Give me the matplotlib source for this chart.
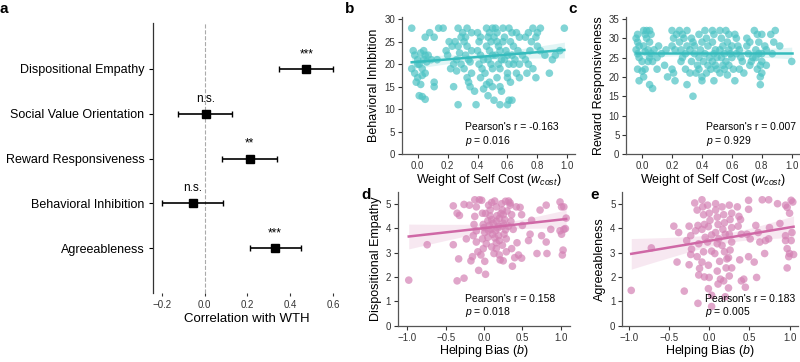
import numpy as np
import matplotlib
matplotlib.use("Agg")
import matplotlib.pyplot as plt

plt.rcParams["font.family"] = ["Liberation Sans", "DejaVu Sans"]
plt.rcParams["mathtext.fontset"] = "custom"
plt.rcParams["mathtext.rm"] = "Liberation Sans"
plt.rcParams["mathtext.it"] = "Liberation Sans:italic"

# ---- panel a: correlations with WTH ----
traits = ["Dispositional Empathy", "Social Value Orientation", "Reward Responsiveness",
          "Behavioral Inhibition", "Agreeableness"]
corr = [0.475, 0.005, 0.21, -0.055, 0.33]
ci_low = [0.35, -0.125, 0.08, -0.20, 0.21]
ci_high = [0.60, 0.13, 0.34, 0.085, 0.45]
signif = ["***", "n.s.", "**", "n.s.", "***"]

# ---- panel b: w_cost vs Behavioral Inhibition ----
b_x = [-0.04, -0.03, -0.02, 0.0, 0.01, -0.02, 0.0, -0.01, 0.03, 0.02, 0.04, 0.05, 0.04, 0.06,
       0.03, 0.05, 0.01, 0.03, 0.05, 0.05, 0.08, -0.04, 0.09, 0.0, 0.02, 0.07,
       0.11, 0.11, 0.11, 0.14, 0.17, 0.13,
       0.2, 0.19, 0.21, 0.23, 0.25, 0.24, 0.22, 0.26, 0.24, 0.27, 0.27, 0.3, 0.29, 0.27, 0.28,
       0.26, 0.29, 0.31, 0.33, 0.34, 0.32, 0.31, 0.33, 0.32, 0.34, 0.36, 0.36, 0.33, 0.35, 0.36,
       0.35, 0.38, 0.39,
       0.4, 0.42, 0.41, 0.4, 0.42, 0.44, 0.41, 0.43, 0.45, 0.42, 0.46, 0.44, 0.47, 0.46, 0.48,
       0.47, 0.49, 0.46, 0.48, 0.5, 0.47, 0.49, 0.5, 0.48, 0.5, 0.51, 0.5, 0.52, 0.53, 0.51,
       0.53, 0.54, 0.55, 0.52, 0.56, 0.54, 0.55, 0.53, 0.55, 0.56, 0.55, 0.57, 0.58, 0.57, 0.59,
       0.6, 0.58, 0.61, 0.6, 0.6, 0.62, 0.61, 0.6, 0.61, 0.63, 0.62, 0.64, 0.63, 0.65, 0.64, 0.63,
       0.66, 0.68, 0.67, 0.7, 0.68, 0.66, 0.68, 0.72, 0.72, 0.74, 0.77, 0.76, 0.75, 0.74, 0.73,
       0.79, 0.77, 0.79, 0.8, 0.82, 0.8, 0.82, 0.85,
       0.9, 0.92, 0.95, 0.98, 0.88]
b_y = [19, 23, 22, 21, 20, 18, 17, 16, 17.5, 22.5, 23, 22, 21, 20.5,
       19, 18, 13, 12.8, 12.2, 26, 27, 28, 21, 20, 15.5, 22,
       16, 15, 26, 28, 28, 21,
       22, 23, 25, 24, 25, 20, 19, 18.5, 15, 11, 28, 27, 26, 24, 22.5,
       21, 20, 19, 17, 16, 26, 25, 24, 22, 21, 23, 27, 28, 20.5, 18,
       15, 14, 11,
       27, 26, 25, 23, 22, 21, 20, 19, 18, 17, 15.5, 14.5, 13, 28, 27,
       26, 25, 24, 23, 22, 21, 20, 19, 16, 15, 12, 28, 28, 27, 26,
       25, 24, 23, 22, 21, 20, 19, 17, 15, 14, 11, 28, 26, 25, 23,
       22, 21, 20, 18, 17, 16, 12, 11, 28, 27, 25, 24, 22, 21, 20, 12,
       27, 26, 23, 22, 20, 18, 17, 21, 26, 27, 28, 25, 23, 20, 18,
       17, 19, 26, 27, 28, 24, 23, 22,
       21, 22, 23, 28, 18]
b_fit = (20.53, 2.67)  # intercept, slope

# ---- panel c: w_cost vs Reward Responsiveness ----
c_x = [-0.03, -0.04, -0.03, -0.02, -0.04, -0.03, -0.02, 0.0, -0.03, 0.0, -0.02, 0.01,
       0.01, 0.03, 0.02, 0.03, 0.05, 0.01, 0.04, 0.02, 0.06, 0.05, 0.04, 0.07, 0.02, 0.05,
       0.08, 0.05, 0.07, 0.06,
       0.11, 0.13, 0.1, 0.1, 0.15, 0.16, 0.2, 0.21, 0.17, 0.22, 0.2, 0.21, 0.2, 0.23, 0.22,
       0.25, 0.27, 0.28, 0.25, 0.3, 0.26, 0.29, 0.27, 0.26, 0.29, 0.32, 0.3, 0.33, 0.34, 0.35,
       0.32, 0.35, 0.33, 0.37, 0.38, 0.36, 0.4, 0.4, 0.3, 0.34, 0.38, 0.4, 0.39, 0.38,
       0.42, 0.43, 0.44, 0.42, 0.45, 0.41, 0.44, 0.46, 0.43, 0.47, 0.48, 0.47, 0.49, 0.48,
       0.5, 0.47, 0.49, 0.5, 0.52, 0.48, 0.52, 0.53, 0.54, 0.52, 0.55, 0.53, 0.56, 0.54,
       0.55, 0.57, 0.56, 0.58, 0.57, 0.6, 0.58, 0.59, 0.6, 0.58, 0.61, 0.62,
       0.62, 0.63, 0.64, 0.65, 0.63, 0.66, 0.67, 0.65, 0.68, 0.7, 0.7, 0.72, 0.71, 0.74,
       0.73, 0.72, 0.75, 0.77, 0.78, 0.76, 0.78, 0.76, 0.79, 0.77, 0.8, 0.82, 0.8, 0.8,
       0.83, 0.8, 0.79, 0.79,
       0.86, 0.89, 0.88, 0.92, 0.87, 1.0, 0.83]
c_y = [31, 30, 29, 28, 27, 26, 25, 24, 22, 21.5, 19, 20,
       32, 32, 31, 30, 29, 28, 27, 26.5, 26, 25, 24, 24, 22, 32,
       27, 18, 17, 31,
       28, 26, 25, 22, 23, 27, 22, 21, 20, 19, 32, 30, 28, 31, 27,
       32, 31, 30, 29, 28, 27, 26, 25, 24, 22, 21, 32, 30, 29, 28,
       27, 26, 24, 23, 22, 21, 20, 19, 18, 15, 31, 29, 27, 25,
       32, 30, 28, 26, 25, 24, 23, 22, 21, 32, 31, 29, 27, 26,
       25, 24, 23, 22, 21, 19, 32, 30, 28, 27, 26, 25, 24, 23,
       22, 20.5, 32, 31, 29, 28, 27, 26, 25, 23, 22, 19,
       31, 30, 28, 27, 26, 25, 24, 22, 21, 30, 28, 29, 26, 25,
       24, 23, 32, 31, 29, 27, 26, 25, 23, 22, 31, 28, 26, 24,
       23, 21, 20, 18,
       31, 32, 29, 28, 26, 24, 27]
c_fit = (26.2, 0.0)

# ---- panel d: helping bias vs Dispositional Empathy ----
d_x = [-0.98, -0.74, -0.40, -0.40, -0.35, -0.35, -0.32, -0.33, -0.26, -0.26, -0.23, -0.19,
       -0.17, -0.15, -0.12, -0.10, -0.12, -0.13, -0.10, -0.14, -0.10, -0.08, -0.07, -0.06,
       -0.03, -0.02, -0.01, 0.0, 0.01, -0.02, 0.03, -0.01, 0.01, 0.02, -0.04,
       0.06, 0.08, 0.10, 0.07, 0.09, 0.11, 0.05, 0.10, 0.13,
       0.14, 0.16, 0.17, 0.16, 0.19, 0.15, 0.19, 0.20, 0.16, 0.20, 0.21,
       0.23, 0.24, 0.25, 0.27, 0.24, 0.28, 0.26, 0.29, 0.25, 0.29,
       0.32, 0.34, 0.36, 0.35, 0.32, 0.38, 0.36, 0.40, 0.37, 0.34,
       0.42, 0.43, 0.45, 0.49, 0.47, 0.49, 0.50,
       0.58, 0.60, 0.62, 0.69, 0.73, 0.75, 0.81, 0.81, 0.82, 0.87, 0.99, 1.01, 1.04, 1.07,
       1.06, 1.04, 1.01, 1.03, 1.02, 0.99,
       0.05, 0.12, 0.20, 0.22, 0.18, 0.08, 0.25, 0.30, 0.14, 0.02, 0.28, 0.10, 0.24, 0.06, 0.16]
d_y = [1.87, 3.32, 4.91, 3.32, 1.84, 4.61, 4.52, 2.74, 4.97, 1.95, 3.56, 4.94,
       2.66, 2.83, 5.16, 4.87, 4.48, 4.15, 3.89, 3.69, 3.43, 3.03, 2.27, 5.16,
       5.14, 4.61, 4.15, 4.02, 3.82, 3.56, 3.36, 3.16, 2.64, 2.11, 2.90,
       4.94, 4.74, 4.35, 4.11, 3.95, 3.75, 3.62, 3.23, 2.96,
       5.11, 4.87, 4.51, 4.28, 4.08, 3.89, 3.69, 3.49, 3.16, 2.90, 2.70,
       5.00, 4.74, 4.55, 4.35, 4.08, 3.93, 3.75, 3.56, 2.66, 3.03,
       5.11, 4.94, 4.55, 4.28, 4.08, 3.95, 3.16, 2.79, 2.44, 5.03,
       4.87, 3.40, 2.90, 2.77, 4.85, 4.55, 4.11,
       3.49, 3.75, 4.32, 2.96, 4.74, 3.69, 4.94, 3.43, 2.96, 3.95, 5.07, 4.87, 4.87, 4.41,
       3.98, 3.95, 3.75, 3.10, 2.90, 3.89,
       4.30, 4.20, 4.40, 4.60, 4.00, 4.50, 4.20, 4.70, 3.60, 4.60, 5.10, 5.05, 3.30, 3.90, 3.40]
d_fit = (4.0, 0.35)

# ---- panel e: helping bias vs Agreeableness ----
e_x = [-0.97, -0.72, -0.44, -0.38, -0.40, -0.31, -0.28, -0.25, -0.23, -0.22, -0.23, -0.25,
       -0.18, -0.15, -0.17, -0.14, -0.13, -0.15, -0.12, -0.14, -0.13,
       -0.09, -0.08, -0.07, -0.06, -0.09, -0.05, -0.07, -0.06, -0.09,
       -0.02, 0.0, 0.01, -0.01, 0.03, -0.02, 0.03, -0.01, 0.0, -0.01, 0.03, 0.03,
       0.08, 0.08, 0.10, 0.11, 0.08, 0.12, 0.10, 0.07, 0.13, 0.10, 0.14, 0.11,
       0.16, 0.18, 0.19, 0.17, 0.20, 0.16, 0.19, 0.22, 0.21, 0.18, 0.20,
       0.25, 0.28, 0.26, 0.28, 0.25, 0.28, 0.26, 0.24, 0.28, 0.25, 0.24,
       0.35, 0.37, 0.39, 0.36, 0.40, 0.38, 0.40, 0.43, 0.45,
       0.49, 0.49, 0.47, 0.49, 0.51, 0.58, 0.61, 0.63, 0.59, 0.56,
       0.66, 0.70, 0.74, 0.74, 0.75, 0.69, 0.85, 0.88, 0.95, 0.95, 0.97, 0.99, 0.97, 1.00,
       1.02, 1.03, 1.00, 0.97, 0.95, 1.02, 1.04, 1.05]
e_y = [1.45, 3.19, 4.08, 3.82, 2.61, 1.42, 3.49, 4.08, 3.69, 3.14, 2.92, 2.50,
       5.03, 4.74, 3.89, 4.11, 3.36, 2.83, 2.35, 0.92, 2.08,
       5.16, 4.87, 4.55, 4.15, 3.95, 3.62, 3.03, 2.00, 2.61,
       4.94, 4.61, 4.32, 4.06, 3.72, 3.43, 3.06, 2.48, 1.98, 1.52, 1.25, 0.79,
       5.00, 4.74, 4.45, 4.15, 3.82, 3.56, 3.36, 2.96, 2.64, 2.24, 1.91, 1.71,
       4.87, 4.55, 4.22, 3.95, 3.75, 3.29, 3.03, 2.74, 2.37, 1.84, 1.19,
       4.94, 4.61, 4.35, 4.02, 3.75, 3.43, 3.10, 2.79, 2.37, 2.04, 1.55,
       4.87, 4.48, 4.35, 4.08, 3.75, 2.70, 1.84, 1.91, 1.58,
       5.14, 4.77, 3.75, 2.83, 3.56, 4.11, 3.82, 3.43, 1.98, 2.61,
       5.16, 3.49, 3.56, 5.16, 4.02, 2.96, 5.00, 4.19, 3.69, 3.49, 3.16, 2.83, 2.37, 2.96,
       3.49, 3.82, 4.61, 4.85, 4.94, 5.14, 5.07, 2.92]
e_fit = (3.48, 0.55)

teal = "#4cc3c4"
teal_line = "#36bcbd"
pink = "#d481b4"
pink_line = "#cf68a6"


def scatter_panel(ax, x, y, fit, xlim, ylim, yticks, xticks, color, line_color,
                  xlabel, ylabel, r_text, p_text, text_x):
    x = np.asarray(x, dtype=float)
    y = np.asarray(y, dtype=float)
    ax.scatter(x, y, s=30, color=color, alpha=0.7, edgecolors="none", zorder=2)

    # regression line, CI band from the OLS formula
    xs = np.linspace(x.min(), x.max(), 100)
    ys = fit[0] + fit[1] * xs
    resid = y - (fit[0] + fit[1] * x)
    n = len(x)
    s = np.sqrt(np.sum(resid ** 2) / (n - 2))
    sxx = np.sum((x - x.mean()) ** 2)
    half = 1.97 * s * np.sqrt(1.0 / n + (xs - x.mean()) ** 2 / sxx)
    ax.fill_between(xs, ys - half, ys + half, color=line_color, alpha=0.15,
                    linewidth=0, zorder=1)
    ax.plot(xs, ys, color=line_color, linewidth=1.8, zorder=3)

    ax.set_xlim(*xlim)
    ax.set_ylim(*ylim)
    ax.set_xticks(xticks)
    ax.set_yticks(yticks)
    ax.set_xticklabels([f"{t:.1f}".replace("-", "\u2212") for t in xticks])
    ax.tick_params(labelsize=7, length=3, width=0.8, colors="#333333", pad=2)
    for side in ["top", "right"]:
        ax.spines[side].set_visible(False)
    for side in ["left", "bottom"]:
        ax.spines[side].set_color("#555555")
        ax.spines[side].set_linewidth(0.9)
    ax.set_xlabel(xlabel, fontsize=9, labelpad=0.5)
    ax.set_ylabel(ylabel, fontsize=9, labelpad=3)
    ax.text(text_x, 0.20, r_text, transform=ax.transAxes, fontsize=7.5, va="center")
    ax.text(text_x, 0.10, p_text, transform=ax.transAxes, fontsize=7.5, va="center")


fig = plt.figure(figsize=(8, 3.62), dpi=100)

# panel a
ax_a = fig.add_axes([0.191, 0.191, 0.234, 0.746])
ypos = np.arange(len(traits), 0, -1)
ax_a.axvline(0, color="#aaaaaa", linestyle="--", linewidth=0.8, zorder=0)
for yp, c, lo, hi, sig in zip(ypos, corr, ci_low, ci_high, signif):
    ax_a.errorbar(c, yp, xerr=[[c - lo], [hi - c]], fmt="s", color="black",
                  markersize=5.5, capsize=2.5, elinewidth=1.2, capthick=1.0)
    ax_a.text(c, yp + 0.2, sig, ha="center", va="bottom", fontsize=8.5)
ax_a.set_ylim(0, 6.03)
ax_a.set_xlim(-0.242, 0.633)
ax_a.set_yticks(ypos)
ax_a.set_yticklabels(traits, fontsize=9)
ax_a.set_xticks([-0.2, 0.0, 0.2, 0.4, 0.6])
ax_a.set_xticklabels(["\u22120.2", "0.0", "0.2", "0.4", "0.6"])
ax_a.tick_params(axis="x", labelsize=7, length=2, colors="#333333", pad=3)
ax_a.tick_params(axis="y", length=3, width=0.8, pad=3)
for side in ["top", "right", "bottom"]:
    ax_a.spines[side].set_visible(False)
ax_a.spines["left"].set_color("#333333")
ax_a.spines["left"].set_linewidth(0.9)
ax_a.set_xlabel("Correlation with WTH", fontsize=9.5, labelpad=2)

# panels b-e
ax_b = fig.add_axes([0.5025, 0.574, 0.216, 0.378])
scatter_panel(ax_b, b_x, b_y, b_fit, (-0.105, 1.05), (0, 30.4), [0, 5, 10, 15, 20, 25, 30],
              [0.0, 0.2, 0.4, 0.6, 0.8, 1.0], teal, teal_line,
              "Weight of Self Cost ($w_{cost}$)", "Behavioral Inhibition",
              "Pearson's r = -0.163", "$p$ = 0.016", 0.364)

ax_c = fig.add_axes([0.783, 0.574, 0.216, 0.378])
scatter_panel(ax_c, c_x, c_y, c_fit, (-0.105, 1.05), (0, 35.4), [0, 5, 10, 15, 20, 25, 30, 35],
              [0.0, 0.2, 0.4, 0.6, 0.8, 1.0], teal, teal_line,
              "Weight of Self Cost ($w_{cost}$)", "Reward Responsiveness",
              "Pearson's r = 0.007", "$p$ = 0.929", 0.46)

ax_d = fig.add_axes([0.4975, 0.1, 0.215, 0.369])
scatter_panel(ax_d, d_x, d_y, d_fit, (-1.12, 1.12), (0, 5.47), [0, 1, 2, 3, 4, 5],
              [-1.0, -0.5, 0.0, 0.5, 1.0], pink, pink_line,
              "Helping Bias ($b$)", "Dispositional Empathy",
              "Pearson's r = 0.158", "$p$ = 0.018", 0.39)

ax_e = fig.add_axes([0.778, 0.1, 0.219, 0.369])
scatter_panel(ax_e, e_x, e_y, e_fit, (-1.08, 1.1), (0, 5.47), [0, 1, 2, 3, 4, 5],
              [-1.0, -0.5, 0.0, 0.5, 1.0], pink, pink_line,
              "Helping Bias ($b$)", "Agreeableness",
              "Pearson's r = 0.183", "$p$ = 0.005", 0.47)

# panel letters
for letter, px, py in [("a", 0.0, 0.975), ("b", 0.431, 0.975), ("c", 0.71, 0.975),
                       ("d", 0.452, 0.46), ("e", 0.738, 0.46)]:
    fig.text(px, py, letter, fontsize=11, fontweight="bold", va="center")

fig.savefig("out.png", dpi=100)
